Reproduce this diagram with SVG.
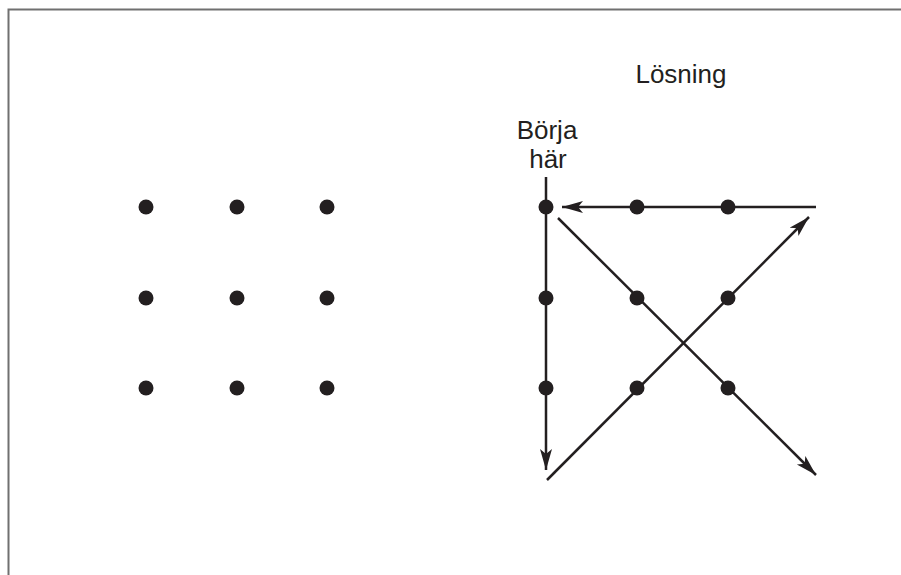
<svg xmlns="http://www.w3.org/2000/svg" width="901" height="575" viewBox="0 0 901 575">
<style>
.dot{fill:#231f20}
.ln{stroke:#231f20;stroke-width:2.5;fill:none}
.lbl{font-family:"Liberation Sans",Arial,sans-serif;font-size:26px;fill:#231f20;text-anchor:middle}
</style>
<defs>
<marker id="ah" markerUnits="userSpaceOnUse" markerWidth="22" markerHeight="14" refX="21" refY="6.5" orient="auto">
<path d="M0,0.5 L21,6.5 L0,12.5 L5,6.5 Z" fill="#231f20"/>
</marker>
</defs>
<rect x="0" y="0" width="901" height="575" fill="#fff"/>
<path d="M8.5,575 V9.5 H901" fill="none" stroke="#707070" stroke-width="2"/>
<g id="grid-left">
<circle class="dot" cx="146" cy="207" r="7.5"/>
<circle class="dot" cx="237" cy="207" r="7.5"/>
<circle class="dot" cx="327" cy="207" r="7.5"/>
<circle class="dot" cx="146" cy="298" r="7.5"/>
<circle class="dot" cx="237" cy="298" r="7.5"/>
<circle class="dot" cx="327" cy="298" r="7.5"/>
<circle class="dot" cx="146" cy="388" r="7.5"/>
<circle class="dot" cx="237" cy="388" r="7.5"/>
<circle class="dot" cx="327" cy="388" r="7.5"/>
</g>
<g id="connectors">
<line class="ln" x1="546" y1="177" x2="546" y2="470" marker-end="url(#ah)"/>
<line class="ln" x1="547" y1="480" x2="809" y2="217" marker-end="url(#ah)"/>
<line class="ln" x1="816" y1="207" x2="562" y2="207" marker-end="url(#ah)"/>
<line class="ln" x1="558" y1="218" x2="816" y2="475" marker-end="url(#ah)"/>
</g>
<g id="grid-right">
<circle class="dot" cx="546" cy="207" r="7.5"/>
<circle class="dot" cx="637" cy="207" r="7.5"/>
<circle class="dot" cx="728" cy="207" r="7.5"/>
<circle class="dot" cx="546" cy="298" r="7.5"/>
<circle class="dot" cx="637" cy="298" r="7.5"/>
<circle class="dot" cx="728" cy="298" r="7.5"/>
<circle class="dot" cx="546" cy="388" r="7.5"/>
<circle class="dot" cx="637" cy="388" r="7.5"/>
<circle class="dot" cx="728" cy="388" r="7.5"/>
</g>
<g id="labels">
<text class="lbl" x="681" y="83">Lösning</text>
<text class="lbl" x="547" y="139">Börja</text>
<text class="lbl" x="548" y="168">här</text>
</g>
</svg>
